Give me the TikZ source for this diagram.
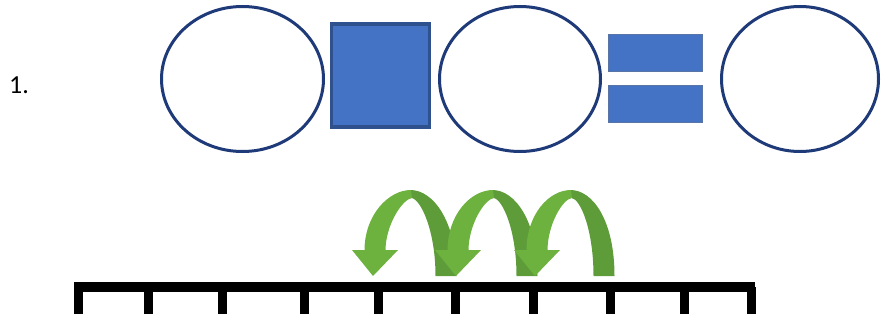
\documentclass[tikz,border=0pt]{standalone}
\usepackage{fontspec}
\setmainfont{Carlito}
\usetikzlibrary{shapes.geometric}
\definecolor{navy}{HTML}{1F3A78}
\definecolor{boxblue}{HTML}{4472C4}
\definecolor{boxedge}{HTML}{2F528F}
\definecolor{glight}{HTML}{6DB13F}
\definecolor{gdark}{HTML}{5E9C3A}
\tikzset{
  oval/.style={ellipse, draw=navy, line width=3pt, fill=white, inner sep=0pt},
  sqbox/.style={rectangle, draw=boxedge, line width=3.5pt, fill=boxblue, inner sep=0pt, minimum width=98pt, minimum height=103pt},
  eqbar/.style={rectangle, draw=boxedge!80!white, line width=1.2pt, fill=boxblue, inner sep=0pt, minimum width=94pt, minimum height=37pt},
  arcdark/.style={fill=gdark},
  arclight/.style={fill=glight},
  tickmark/.style={fill=black},
}
\begin{document}
\begin{tikzpicture}[x=1pt,y=-1pt]
\useasboundingbox (0,0) rectangle (881,324);
\node[anchor=base west, inner sep=0pt, font=\fontsize{26}{30}\selectfont] (num) at (9,93) {1.};
\node[oval, minimum width=162pt, minimum height=145pt] (e1) at (242.5,79) {};
\node[sqbox] (sq) at (380.5,75.5) {};
\node[oval, minimum width=161pt, minimum height=145pt] (e2) at (520,79) {};
\node[eqbar] (eqa) at (655.5,53) {};
\node[eqbar] (eqb) at (655.5,104) {};
\node[oval, minimum width=157pt, minimum height=145pt] (e3) at (800,79) {};
% number line
\fill (74,282) rectangle (755,292);
\foreach \x [count=\i] in {78,148,222,304,378,455,533,610,684,751} {
  \coordinate (t\i) at (\x,282);
  \fill[tickmark] (\x-4.5,287) rectangle (\x+4.5,314);
}
% hop arrows
\foreach \T/\H in {446/375, 527/458, 604/537} {
  \pgfmathsetmacro\Mx{(\T+\H)/2}
  % dark right leg
  \fill[arcdark] (\T+10.5,276) .. controls (\T+10.5,220) and (\Mx+22,190) .. (\Mx,190)
     -- (\Mx+1,198) .. controls (\Mx+10,199) and (\T-10.5,230) .. (\T-10.5,276) -- cycle;
  % light left leg
  \fill[arclight] (\Mx+0.5,190) .. controls (\Mx-22,190) and (\H-10.5,215) .. (\H-10.5,250.5)
     -- (\H+10.5,250.5) .. controls (\H+10.5,225) and (\Mx-8,199) .. (\Mx+1.5,198) -- cycle;
  % head
  \fill[arclight] (\H-23,250) -- (\H+23,250) -- (\H-2,276) -- cycle;
}
\end{tikzpicture}
\end{document}
